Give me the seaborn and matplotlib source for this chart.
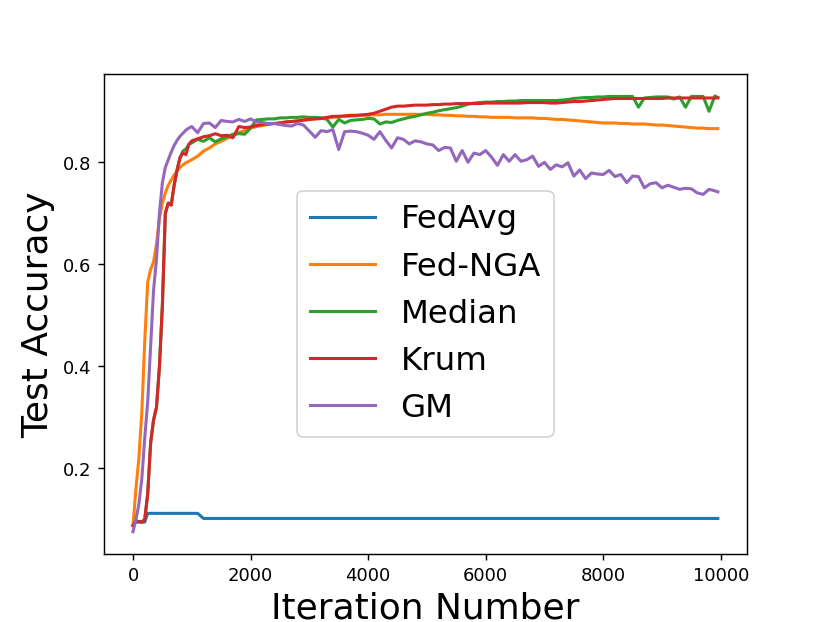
import matplotlib
matplotlib.use("Agg")
import matplotlib.pyplot as plt
import seaborn as sns
import pandas as pd

# iterations: every 50 up to 1000, then every 100, last logged at 9950
iterations = list(range(0, 1001, 50)) + list(range(1100, 9901, 100)) + [9950]

fedavg = [0.088, 0.095, 0.095, 0.095, 0.095, 0.112, 0.112, 0.112, 0.112, 0.112,
          0.112, 0.112, 0.112, 0.112, 0.112, 0.112, 0.112, 0.112, 0.112, 0.112, 0.112,
          0.112, 0.102, 0.102, 0.102, 0.102, 0.102, 0.102, 0.102, 0.102, 0.102,
          0.102, 0.102, 0.102, 0.102, 0.102, 0.102, 0.102, 0.102, 0.102, 0.102,
          0.102, 0.102, 0.102, 0.102, 0.102, 0.102, 0.102, 0.102, 0.102, 0.102,
          0.102, 0.102, 0.102, 0.102, 0.102, 0.102, 0.102, 0.102, 0.102, 0.102,
          0.102, 0.102, 0.102, 0.102, 0.102, 0.102, 0.102, 0.102, 0.102, 0.102,
          0.102, 0.102, 0.102, 0.102, 0.102, 0.102, 0.102, 0.102, 0.102, 0.102,
          0.102, 0.102, 0.102, 0.102, 0.102, 0.102, 0.102, 0.102, 0.102, 0.102,
          0.102, 0.102, 0.102, 0.102, 0.102, 0.102, 0.102, 0.102, 0.102, 0.102,
          0.102, 0.102, 0.102, 0.102, 0.102, 0.102, 0.102, 0.102, 0.102,
          0.102]

fed_nga = [0.088, 0.16, 0.22, 0.31, 0.45, 0.565, 0.59, 0.605, 0.64, 0.69,
           0.72, 0.74, 0.755, 0.765, 0.775, 0.783, 0.79, 0.795, 0.799, 0.802, 0.805,
           0.812, 0.822, 0.828, 0.836, 0.841, 0.847, 0.852, 0.858, 0.862, 0.867,
           0.870, 0.872, 0.874, 0.876, 0.877, 0.879, 0.880, 0.881, 0.882, 0.884,
           0.885, 0.886, 0.887, 0.888, 0.889, 0.890, 0.890, 0.891, 0.892, 0.892,
           0.893, 0.893, 0.894, 0.894, 0.894, 0.894, 0.894, 0.894, 0.894, 0.894,
           0.893, 0.893, 0.892, 0.892, 0.891, 0.891, 0.890, 0.890, 0.889, 0.889,
           0.888, 0.888, 0.888, 0.888, 0.887, 0.887, 0.887, 0.887, 0.886, 0.886,
           0.885, 0.884, 0.884, 0.883, 0.882, 0.881, 0.880, 0.879, 0.878, 0.877,
           0.877, 0.877, 0.876, 0.876, 0.875, 0.875, 0.875, 0.874, 0.873, 0.873,
           0.872, 0.871, 0.870, 0.869, 0.868, 0.867, 0.867, 0.866, 0.866,
           0.866]

median = [0.088, 0.097, 0.096, 0.095, 0.10, 0.15, 0.25, 0.295, 0.32, 0.40,
          0.52, 0.70, 0.72, 0.716, 0.755, 0.785, 0.808, 0.822, 0.826, 0.835, 0.838,
          0.845, 0.841, 0.848, 0.840, 0.846, 0.850, 0.855, 0.856, 0.855, 0.867,
          0.883, 0.884, 0.885, 0.885, 0.887, 0.887, 0.888, 0.888, 0.889, 0.888,
          0.888, 0.887, 0.884, 0.869, 0.884, 0.877, 0.882, 0.883, 0.884, 0.886,
          0.885, 0.875, 0.879, 0.878, 0.882, 0.885, 0.888, 0.890, 0.893, 0.896,
          0.898, 0.901, 0.903, 0.905, 0.907, 0.910, 0.914, 0.916, 0.917, 0.918,
          0.918, 0.919, 0.919, 0.920, 0.920, 0.921, 0.921, 0.921, 0.921, 0.921,
          0.921, 0.921, 0.922, 0.923, 0.925, 0.926, 0.927, 0.927, 0.928, 0.928,
          0.929, 0.929, 0.929, 0.929, 0.929, 0.908, 0.926, 0.927, 0.928, 0.928,
          0.928, 0.924, 0.928, 0.908, 0.929, 0.929, 0.929, 0.900, 0.930,
          0.927]

krum = [0.088, 0.097, 0.096, 0.095, 0.10, 0.15, 0.25, 0.295, 0.32, 0.40,
        0.52, 0.70, 0.72, 0.716, 0.755, 0.785, 0.81, 0.818, 0.815, 0.835, 0.842,
        0.846, 0.850, 0.852, 0.856, 0.852, 0.853, 0.848, 0.870, 0.868, 0.869,
        0.872, 0.874, 0.875, 0.876, 0.877, 0.879, 0.880, 0.881, 0.883, 0.884,
        0.885, 0.886, 0.888, 0.890, 0.890, 0.891, 0.892, 0.892, 0.893, 0.894,
        0.896, 0.900, 0.904, 0.908, 0.910, 0.910, 0.911, 0.912, 0.912, 0.912,
        0.913, 0.913, 0.914, 0.914, 0.915, 0.915, 0.915, 0.915, 0.915, 0.916,
        0.916, 0.916, 0.916, 0.916, 0.916, 0.916, 0.917, 0.917, 0.917, 0.917,
        0.916, 0.916, 0.917, 0.918, 0.919, 0.919, 0.920, 0.921, 0.922, 0.923,
        0.924, 0.925, 0.925, 0.925, 0.925, 0.925, 0.925, 0.925, 0.925, 0.925,
        0.926, 0.926, 0.926, 0.926, 0.926, 0.926, 0.926, 0.926, 0.926,
        0.926]

gm = [0.076, 0.10, 0.13, 0.18, 0.26, 0.33, 0.44, 0.55, 0.61, 0.70,
      0.76, 0.79, 0.805, 0.82, 0.833, 0.843, 0.851, 0.857, 0.863, 0.867, 0.870,
      0.858, 0.876, 0.877, 0.868, 0.882, 0.880, 0.879, 0.884, 0.880, 0.885,
      0.879, 0.878, 0.876, 0.876, 0.874, 0.872, 0.871, 0.876, 0.873, 0.861,
      0.849, 0.862, 0.860, 0.864, 0.825, 0.860, 0.861, 0.860, 0.857, 0.853,
      0.845, 0.860, 0.843, 0.828, 0.848, 0.845, 0.836, 0.842, 0.840, 0.836,
      0.834, 0.823, 0.829, 0.828, 0.802, 0.823, 0.800, 0.818, 0.815, 0.823,
      0.810, 0.794, 0.815, 0.802, 0.815, 0.802, 0.805, 0.812, 0.792, 0.800,
      0.786, 0.795, 0.791, 0.799, 0.773, 0.785, 0.768, 0.779, 0.777, 0.776,
      0.784, 0.772, 0.776, 0.760, 0.773, 0.772, 0.750, 0.758, 0.760, 0.750,
      0.755, 0.751, 0.747, 0.749, 0.748, 0.740, 0.737, 0.747, 0.744,
      0.742]

methods = ["FedAvg", "Fed-NGA", "Median", "Krum", "GM"]
series = [fedavg, fed_nga, median, krum, gm]
colors = sns.color_palette("tab10", 5)

fig, ax = plt.subplots(figsize=(6.4, 4.8))
for name, vals, c in zip(methods, series, colors):
    df = pd.DataFrame({"iteration": iterations, "acc": vals})
    sns.lineplot(data=df, x="iteration", y="acc", label=name, color=c,
                 linewidth=1.7, ax=ax)

ax.set_xlabel("Iteration Number", fontsize=20)
ax.set_ylabel("Test Accuracy", fontsize=20)
ax.legend(loc="center", fontsize=18)
fig.savefig("out.png", dpi=129.7)
